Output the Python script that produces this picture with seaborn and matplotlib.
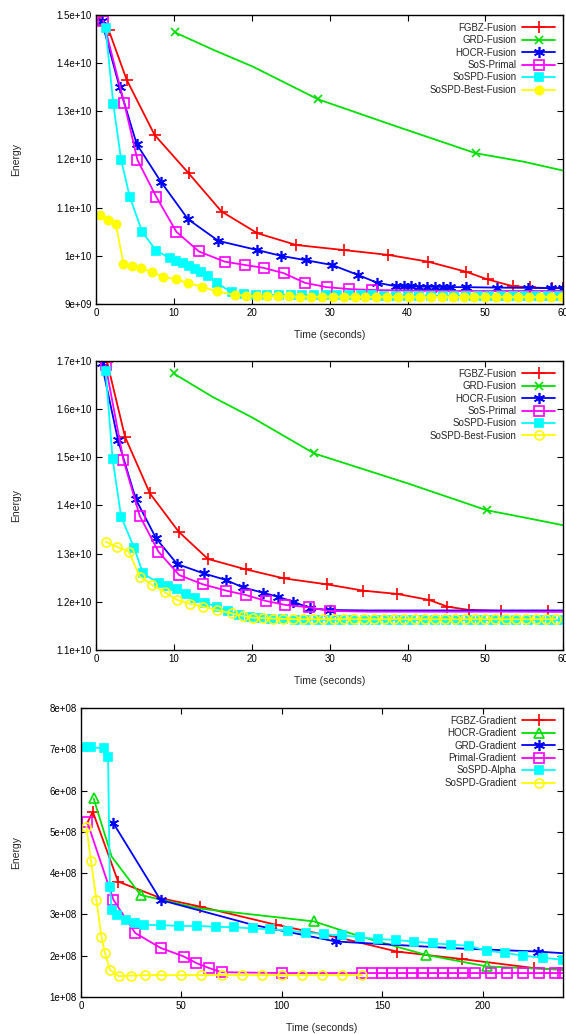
import matplotlib
matplotlib.use("Agg")
import matplotlib.pyplot as plt
import seaborn as sns

# ---------------- panel 1 (energy in 1e10) ----------------
p1_fgbz_t = [0.5, 1.6, 3.9, 7.5, 11.9, 16.1, 20.7, 25.7, 31.8, 37.5, 42.6, 47.5, 50.3, 53.5, 55.8, 58.6, 60]
p1_fgbz_e = [1.49, 1.469, 1.366, 1.251, 1.171, 1.092, 1.047, 1.0225, 1.012, 1.002, 0.988, 0.967, 0.951, 0.937, 0.9345, 0.9325, 0.933]

p1_grd_t = [10.1, 15, 20.1, 28.5, 38.7, 48.75, 54.9, 60]
p1_grd_e = [1.464, 1.428, 1.393, 1.325, 1.268, 1.213, 1.1955, 1.177]

p1_hocr_t = [0.7, 3.0, 5.2, 8.3, 11.8, 15.7, 20.7, 23.75, 26.9, 30.3, 33.7, 36.1, 38.5, 39.5, 40.5,
             41.5, 42.5, 43.5, 44.5, 45.5, 47.5, 51.5, 55.5, 58.5, 60]
p1_hocr_e = [1.488, 1.35, 1.232, 1.154, 1.076, 1.031, 1.012, 1.000, 0.991, 0.981, 0.960, 0.944, 0.937, 0.937, 0.9365,
             0.936, 0.936, 0.9355, 0.9355, 0.935, 0.935, 0.934, 0.9335, 0.933, 0.933]

p1_sos_t = [0.9, 3.6, 5.3, 7.7, 10.3, 13.2, 16.5, 19.1, 21.5, 24.1, 26.8, 29.6, 32.5, 35.5, 40, 45, 50, 55, 60]
p1_sos_e = [1.488, 1.317, 1.199, 1.123, 1.050, 1.009, 0.988, 0.981, 0.975, 0.964, 0.944, 0.935, 0.931, 0.929,
            0.928, 0.927, 0.927, 0.927, 0.927]

p1_sospd_t = [1.2, 2.2, 3.2, 4.3, 5.9, 7.7, 9.5, 10.3, 11.1, 11.9, 12.7, 13.5, 14.3, 15.5, 17.4, 19, 20.5, 22,
              23.5, 25, 26.5, 28, 29.5, 31, 32.5, 34, 35.5, 37, 38.5, 40, 41.5, 43, 44.5, 46, 47.5, 49, 50.5,
              52, 53.5, 55, 56.5, 58, 59.5]
p1_sospd_e = [1.472, 1.315, 1.199, 1.123, 1.050, 1.011, 0.995, 0.990, 0.985, 0.979, 0.973, 0.966, 0.958, 0.944,
              0.924, 0.920, 0.919, 0.919, 0.919, 0.9185, 0.9185, 0.9185, 0.918, 0.918, 0.918, 0.918, 0.918,
              0.9175, 0.9175, 0.9175, 0.9175, 0.9175, 0.917, 0.917, 0.917, 0.917, 0.917, 0.917, 0.917, 0.917,
              0.917, 0.917, 0.917]

p1_best_t = [0.5, 1.5, 2.5, 3.5, 4.6, 5.8, 7.2, 8.6, 10.2, 11.8, 13.6, 15.5, 17.8, 19.2, 20.6, 22, 23.4, 24.8,
             26.2, 27.6, 29, 30.4, 31.8, 33.2, 34.6, 36, 37.4, 38.8, 40.2, 41.6, 43, 44.4, 45.8, 47.2, 48.6, 50,
             51.4, 52.8, 54.2, 55.6, 57, 58.4, 59.8]
p1_best_e = [1.085, 1.075, 1.067, 0.984, 0.979, 0.974, 0.966, 0.957, 0.951, 0.944, 0.936, 0.926, 0.919, 0.917,
             0.9165, 0.916, 0.916, 0.916, 0.9155, 0.9155, 0.9155, 0.9155, 0.9155, 0.915, 0.915, 0.915, 0.915,
             0.915, 0.915, 0.915, 0.915, 0.915, 0.915, 0.915, 0.915, 0.915, 0.915, 0.915, 0.915, 0.915, 0.915,
             0.915, 0.915]

# ---------------- panel 2 (energy in 1e10) ----------------
p2_fgbz_t = [1.4, 3.7, 6.9, 10.6, 14.35, 19.2, 24.1, 29.6, 34.3, 38.7, 42.8, 45.1, 47.9, 52, 58.1, 60]
p2_fgbz_e = [1.698, 1.5425, 1.425, 1.3455, 1.289, 1.2674, 1.2487, 1.2363, 1.2232, 1.2163, 1.2038, 1.190, 1.1831,
             1.181, 1.180, 1.180]

p2_grd_t = [9.95, 15, 20, 28, 40, 50.2, 55, 60]
p2_grd_e = [1.674, 1.625, 1.583, 1.508, 1.446, 1.39, 1.375, 1.359]

p2_hocr_t = [0.7, 2.8, 5.1, 7.7, 10.4, 13.8, 16.7, 18.8, 21.4, 23.3, 25.3, 27.5, 30, 35, 40, 45, 50, 55, 60]
p2_hocr_e = [1.695, 1.5355, 1.4125, 1.3316, 1.2784, 1.259, 1.2452, 1.2301, 1.219, 1.2107, 1.2004, 1.1865, 1.183,
             1.182, 1.182, 1.182, 1.182, 1.182, 1.182]

p2_sos_t = [1.2, 3.5, 5.6, 8.0, 10.65, 13.7, 16.7, 19.2, 21.8, 24.3, 27.3, 30, 35, 40, 45, 50, 55, 60]
p2_sos_e = [1.691, 1.494, 1.378, 1.304, 1.2556, 1.2363, 1.2232, 1.2142, 1.2018, 1.1935, 1.1886, 1.181, 1.1795,
            1.1795, 1.1795, 1.1795, 1.1795, 1.1795]

p2_sospd_t = [1.2, 2.1, 3.2, 4.9, 6.0, 8.1, 9.2, 10.4, 11.5, 12.7, 14.0, 15.5, 16.9, 18.3, 19.7, 21.1, 22.5, 24,
              25.5, 27, 28.5, 30, 31.5, 33, 34.5, 36, 37.5, 39, 40.5, 42, 43.5, 45, 46.5, 48, 49.5, 51, 52.5, 54,
              55.5, 57, 58.5, 60]
p2_sospd_e = [1.68, 1.4975, 1.3765, 1.311, 1.259, 1.2383, 1.232, 1.226, 1.216, 1.207, 1.198, 1.190, 1.181, 1.173,
              1.169, 1.166, 1.164, 1.1635, 1.163, 1.163, 1.1625, 1.1625, 1.1625, 1.162, 1.162, 1.162, 1.162,
              1.162, 1.162, 1.162, 1.162, 1.162, 1.162, 1.162, 1.162, 1.162, 1.162, 1.162, 1.162, 1.162, 1.162,
              1.162]

p2_best_t = [1.2, 2.7, 4.2, 5.6, 7.2, 8.8, 10.4, 12.0, 13.7, 15.5, 17.4, 18.8, 20.1, 21.4, 22.7, 24, 25.3, 26.6,
             27.9, 29.2, 30.5, 31.8, 33.1, 34.4, 35.7, 37, 38.3, 39.6, 40.9, 42.2, 43.5, 44.8, 46.1, 47.4, 48.7,
             50, 51.3, 52.6, 53.9, 55.2, 56.5, 57.8, 59.1]
p2_best_e = [1.3247, 1.314, 1.304, 1.2522, 1.235, 1.220, 1.2038, 1.196, 1.19, 1.183, 1.176, 1.171, 1.167, 1.166,
             1.165, 1.1645, 1.164, 1.164, 1.164, 1.1638, 1.1638, 1.1638, 1.1638, 1.1638, 1.1638, 1.1638, 1.1638,
             1.1638, 1.1638, 1.1638, 1.1638, 1.1638, 1.1638, 1.1638, 1.1638, 1.1638, 1.1638, 1.1638, 1.1638,
             1.1638, 1.1638, 1.1638, 1.1638]

# ---------------- panel 3 (energy in 1e8) ----------------
p3_fgbz_t = [3, 5.9, 18.5, 40, 59.3, 97.1, 130, 157.3, 189.7, 225.6, 240]
p3_fgbz_e = [5.2, 5.487, 3.795, 3.39, 3.19, 2.748, 2.42, 2.10, 1.918, 1.70, 1.66]

p3_hocr_t = [6.3, 15.3, 29.7, 59.3, 116, 139, 171.7, 202, 240]
p3_hocr_e = [5.81, 4.4, 3.47, 3.14, 2.83, 2.466, 2.02, 1.74, 1.66]

p3_grd_t = [16.2, 39.6, 85.4, 126.7, 186, 227.4, 240]
p3_grd_e = [5.205, 3.35, 2.75, 2.345, 2.18, 2.10, 2.06]

p3_primal_t = [3.2, 16.2, 27, 39.6, 51.2, 57.5, 63.8, 70, 100, 140, 145, 150, 155, 160, 165, 170, 175, 180,
               185, 190, 196, 204, 212, 220, 228, 236, 240]
p3_primal_e = [5.23, 3.35, 2.55, 2.19, 1.98, 1.82, 1.70, 1.60, 1.58, 1.58, 1.58, 1.58, 1.58, 1.58, 1.58, 1.58,
               1.58, 1.58, 1.58, 1.58, 1.58, 1.58, 1.58, 1.58, 1.58, 1.58, 1.58]

p3_alpha_t = [0.9, 5, 11.7, 13.5, 14.4, 15.3, 18, 22.5, 27, 31.5, 40, 49, 58, 67.4, 76, 85.4, 94, 103, 112, 121,
              130, 139, 148, 157, 166, 175, 184, 193, 202, 211, 220, 230, 240]
p3_alpha_e = [7.06, 7.05, 7.02, 6.82, 3.67, 3.11, 2.98, 2.87, 2.80, 2.75, 2.74, 2.72, 2.72, 2.70, 2.69, 2.66,
              2.64, 2.61, 2.56, 2.52, 2.49, 2.45, 2.40, 2.38, 2.34, 2.30, 2.27, 2.24, 2.12, 2.07, 2.00, 1.95, 1.90]

p3_grad_t = [2.7, 5, 7.7, 10.2, 12.0, 14.4, 18.9, 25, 32, 40, 50, 60, 70, 80, 90, 100, 110, 120, 130, 140]
p3_grad_e = [5.12, 4.3, 3.35, 2.46, 2.06, 1.66, 1.50, 1.52, 1.53, 1.53, 1.53, 1.53, 1.53, 1.53, 1.53, 1.53,
             1.53, 1.53, 1.53, 1.53]

# tick labels
p1_yticks = [0.9, 1.0, 1.1, 1.2, 1.3, 1.4, 1.5]
p1_ylabels = ["9e+09", "1e+10", "1.1e+10", "1.2e+10", "1.3e+10", "1.4e+10", "1.5e+10"]
p2_yticks = [1.1, 1.2, 1.3, 1.4, 1.5, 1.6, 1.7]
p2_ylabels = ["1.1e+10", "1.2e+10", "1.3e+10", "1.4e+10", "1.5e+10", "1.6e+10", "1.7e+10"]
p3_yticks = [1, 2, 3, 4, 5, 6, 7, 8]
p3_ylabels = ["1e+08", "2e+08", "3e+08", "4e+08", "5e+08", "6e+08", "7e+08", "8e+08"]
fusion_xticks = [0, 10, 20, 30, 40, 50, 60]
grad_xticks = [0, 50, 100, 150, 200]

RED, GREEN, BLUE, MAG, CYAN, YEL = "#ff0000", "#00e000", "#0000ff", "#ff00ff", "#00ffff", "#ffff00"

sns.set_style("ticks")
plt.rcParams["font.family"] = ["Liberation Sans", "DejaVu Sans"]

fig = plt.figure(figsize=(5.66, 10.34), dpi=100)
ax1 = fig.add_axes([0.170, 0.706, 0.825, 0.2795])
ax2 = fig.add_axes([0.170, 0.3714, 0.825, 0.2795])
ax3 = fig.add_axes([0.143, 0.0358, 0.852, 0.2795])


def draw(ax, t, e, label, color, marker, every=None, ms=6, open_=False):
    kw = dict(marker=marker, markersize=ms, markeredgewidth=1.2, markevery=every)
    if open_:
        kw["markerfacecolor"] = "none"
    kw["markeredgecolor"] = color
    sns.lineplot(x=t, y=e, ax=ax, color=color, linewidth=1.3, label=label,
                 estimator=None, sort=False, **kw)


# panel 1
draw(ax1, p1_fgbz_t, p1_fgbz_e, "FGBZ-Fusion", RED, "+", ms=8)
draw(ax1, p1_grd_t, p1_grd_e, "GRD-Fusion", GREEN, "x", every=[0, 3, 5])
draw(ax1, p1_hocr_t, p1_hocr_e, "HOCR-Fusion", BLUE, (6, 2, 0), ms=8)
draw(ax1, p1_sos_t, p1_sos_e, "SoS-Primal", MAG, "s", every=list(range(0, 14)), ms=6.5, open_=True)
draw(ax1, p1_sospd_t, p1_sospd_e, "SoSPD-Fusion", CYAN, "s", ms=6)
draw(ax1, p1_best_t, p1_best_e, "SoSPD-Best-Fusion", YEL, "o", ms=6)

# panel 2
draw(ax2, p2_fgbz_t, p2_fgbz_e, "FGBZ-Fusion", RED, "+", every=list(range(0, 15)), ms=8)
draw(ax2, p2_grd_t, p2_grd_e, "GRD-Fusion", GREEN, "x", every=[0, 3, 5])
draw(ax2, p2_hocr_t, p2_hocr_e, "HOCR-Fusion", BLUE, (6, 2, 0), every=list(range(0, 13)), ms=8)
draw(ax2, p2_sos_t, p2_sos_e, "SoS-Primal", MAG, "s", every=list(range(0, 12)), ms=6.5, open_=True)
draw(ax2, p2_sospd_t, p2_sospd_e, "SoSPD-Fusion", CYAN, "s", ms=6)
draw(ax2, p2_best_t, p2_best_e, "SoSPD-Best-Fusion", YEL, "o", ms=6.5, open_=True)

# panel 3
draw(ax3, p3_fgbz_t, p3_fgbz_e, "FGBZ-Gradient", RED, "+", every=[1, 2, 4, 5, 7, 8, 9], ms=8)
draw(ax3, p3_hocr_t, p3_hocr_e, "HOCR-Gradient", GREEN, "^", every=[0, 2, 4, 6, 7], ms=6.5, open_=True)
draw(ax3, p3_grd_t, p3_grd_e, "GRD-Gradient", BLUE, (6, 2, 0), every=[0, 1, 3, 5], ms=8)
draw(ax3, p3_primal_t, p3_primal_e, "Primal-Gradient", MAG, "s", ms=6.5, open_=True)
draw(ax3, p3_alpha_t, p3_alpha_e, "SoSPD-Alpha", CYAN, "s", ms=6)
draw(ax3, p3_grad_t, p3_grad_e, "SoSPD-Gradient", YEL, "o", ms=6.5, open_=True)

panels = [
    (ax1, (0, 60), (0.9, 1.5), fusion_xticks, p1_yticks, p1_ylabels, -0.16),
    (ax2, (0, 60), (1.1, 1.7), fusion_xticks, p2_yticks, p2_ylabels, -0.16),
    (ax3, (0, 240), (1, 8), grad_xticks, p3_yticks, p3_ylabels, -0.125),
]
for ax, xl, yl, xt, yt, ylab, lx in panels:
    ax.set_xlim(*xl)
    ax.set_ylim(*yl)
    ax.set_xticks(xt)
    ax.set_xticklabels([str(v) for v in xt])
    ax.set_yticks(yt)
    ax.set_yticklabels(ylab)
    ax.tick_params(direction="in", top=True, right=True, length=4, width=0.8,
                   labelsize=7, pad=3, colors="black")
    for s in ax.spines.values():
        s.set_visible(True)
        s.set_linewidth(1.0)
        s.set_color("black")
    ax.set_xlabel("Time (seconds)", fontsize=7.5)
    ax.set_ylabel("Energy", fontsize=7.5)
    ax.xaxis.set_label_coords(0.5, -0.09)
    ax.yaxis.set_label_coords(lx, 0.5)
    ax.legend(loc="upper right", frameon=False, markerfirst=False, fontsize=7,
              handlelength=3.4, handletextpad=0.6, labelspacing=0.25,
              borderaxespad=0.6, borderpad=0.2)

fig.savefig("out.png", dpi=100)
